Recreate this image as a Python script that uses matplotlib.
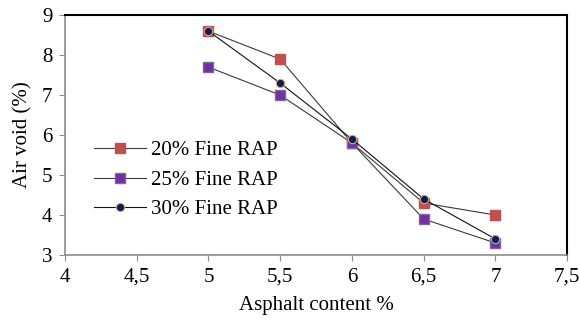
import matplotlib
matplotlib.use("Agg")
import matplotlib.pyplot as plt
from matplotlib.ticker import FuncFormatter

asphalt = [5, 5.5, 6, 6.5, 7]
fine20 = [8.6, 7.9, 5.8, 4.3, 4.0]
fine25 = [7.7, 7.0, 5.8, 3.9, 3.3]
fine30 = [8.6, 7.3, 5.9, 4.4, 3.4]

plt.rcParams["font.family"] = ["Liberation Serif", "DejaVu Serif"]

fig = plt.figure(figsize=(5.8, 3.22), dpi=100)
ax = fig.add_axes([0.112, 0.208, 0.866, 0.745])

ax.plot(asphalt, fine20, color="#3a3a3a", lw=0.8, marker="s", ms=7,
        mfc="#C0504D", mec="#C0504D", label="20% Fine RAP")
ax.plot(asphalt, fine25, color="#3a3a3a", lw=0.8, marker="s", ms=7,
        mfc="#7030A0", mec="#8064A2", label="25% Fine RAP")
ax.plot(asphalt, fine30, color="#111111", lw=0.8, marker="o", ms=6,
        mfc="#002060", mec="#E9A66B", mew=0.8, label="30% Fine RAP")

ax.set_xlim(4, 7.5)
ax.set_ylim(3, 9)
ax.set_xticks([4, 4.5, 5, 5.5, 6, 6.5, 7, 7.5])
ax.set_yticks(range(3, 10))
ax.xaxis.set_major_formatter(FuncFormatter(lambda v, p: f"{v:g}".replace(".", ",")))

for side in ("left", "bottom"):
    ax.spines[side].set_color("#8c8c8c")
    ax.spines[side].set_linewidth(1.2)
for side in ("top", "right"):
    ax.spines[side].set_color("black")
    ax.spines[side].set_linewidth(1.5)
ax.tick_params(direction="out", length=4, color="#8c8c8c", labelsize=15, pad=5)

ax.set_xlabel("Asphalt content %", fontsize=15, labelpad=7)
ax.set_ylabel("Air void (%)", fontsize=15, labelpad=7)

ax.legend(loc="upper left", bbox_to_anchor=(0.02, 0.555), frameon=False,
          fontsize=15, handlelength=2.5, handletextpad=0.25, labelspacing=0.48,
          borderpad=0.4)

fig.savefig("out.png", dpi=100)
